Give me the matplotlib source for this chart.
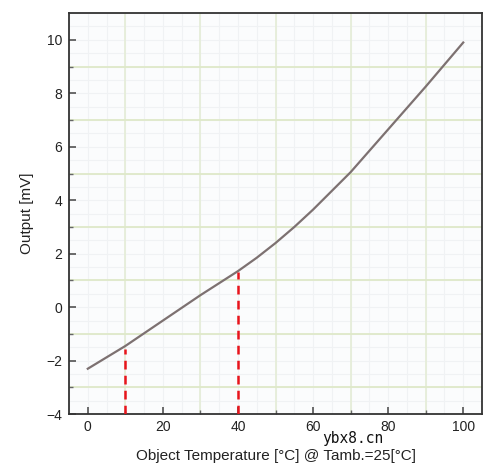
import matplotlib.pyplot as plt
import numpy as np

plt.rcParams['font.family'] = ['Liberation Sans', 'DejaVu Sans']

# data
temp = [0, 10, 20, 30, 40, 45, 50, 55, 60, 65, 70, 80, 90, 100]
output = [-2.3, -1.45, -0.5, 0.45, 1.35, 1.85, 2.4, 3.0, 3.65, 4.35, 5.05, 6.65, 8.25, 9.9]
mark_x = [10, 40]
mark_top = [-1.55, 1.3]

x_ticks = [0, 20, 40, 60, 80, 100]
y_ticks = [-4, -2, 0, 2, 4, 6, 8, 10]

fig = plt.figure(figsize=(5, 4.68), dpi=100)
ax = fig.add_axes([0.138, 0.115, 0.826, 0.857])
ax.set_facecolor('#fbfcfd')

# graph-paper grid ----------------------------------------------------------
for v in np.arange(-5, 106, 5):
    ax.axvline(v, color='#f0f2f4', lw=0.8, zorder=0)
for v in np.arange(-4, 11.1, 0.5):
    ax.axhline(v, color='#f0f2f4', lw=0.8, zorder=0)
for v in [10, 30, 50, 70, 90]:
    ax.axvline(v, color='#e4ecd6', lw=1.2, zorder=0)
for v in [-3, -1, 1, 3, 5, 7, 9]:
    ax.axhline(v, color='#dfe9c9', lw=1.3, zorder=0)

ax.plot(temp, output, color='#7d7171', lw=1.6, zorder=3)
ax.vlines(mark_x, -4, mark_top, colors='#e8141c', linestyles=(0, (3.5, 2.5)), lw=1.8, zorder=4)

ax.set_xlim(-5, 105)
ax.set_ylim(-4, 11)
ax.set_xticks(x_ticks)
ax.set_yticks(y_ticks)
ax.set_xticks([10, 30, 50, 70, 90], minor=True)
ax.set_yticks([-3, -1, 1, 3, 5, 7, 9], minor=True)
ax.tick_params(which='major', direction='in', length=5, width=1.1, color='#444444',
               labelsize=10, labelcolor='#222222')
ax.tick_params(which='minor', direction='in', length=3, width=1, color='#666666')
ax.tick_params(axis='x', pad=4)
ax.tick_params(axis='y', pad=5)

for s in ax.spines.values():
    s.set_color('#333333')
    s.set_linewidth(1.3)

ax.set_ylabel('Output [mV]', fontsize=11, color='#222222', labelpad=9)
ax.set_xlabel('Object Temperature [°C] @ Tamb.=25[°C]', fontsize=11, color='#222222', labelpad=11)

fig.text(0.706, 0.064, 'ybx8.cn', family='DejaVu Sans Mono', fontsize=10.5, color='#111111',
         ha='center', va='center')

plt.savefig('out.png', dpi=100)
